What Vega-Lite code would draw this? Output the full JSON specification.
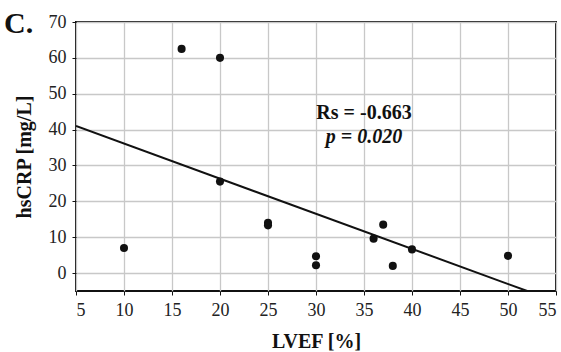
{
  "$schema": "https://vega.github.io/schema/vega-lite/v6.json",
  "autosize": "none",
  "width": 480,
  "height": 269,
  "padding": {"left": 76, "top": 22, "right": 5, "bottom": 61},
  "background": "white",
  "title": {"text": "C.", "anchor": "start", "frame": "group", "font": "Liberation Serif", "fontSize": 30, "fontWeight": "bold", "color": "#111", "dx": -72, "dy": 26, "offset": 0},
  "config": {
    "font": "Liberation Serif",
    "view": {"stroke": "#111", "strokeWidth": 2},
    "axis": {"labelFont": "Liberation Serif", "titleFont": "Liberation Serif", "labelFontSize": 18, "titleFontSize": 20, "titleFontWeight": "bold", "labelColor": "#222", "titleColor": "#111", "gridColor": "#c8c8c8", "gridWidth": 1.3, "domain": false, "tickColor": "#111", "tickSize": 4, "labelOverlap": false}
  },
  "datasets": {
    "pts": [
      {"lvef": 10, "crp": 7},
      {"lvef": 16, "crp": 62.5},
      {"lvef": 20, "crp": 60},
      {"lvef": 20, "crp": 25.5},
      {"lvef": 25, "crp": 14},
      {"lvef": 25, "crp": 13.3},
      {"lvef": 30, "crp": 4.7},
      {"lvef": 30, "crp": 2.2},
      {"lvef": 36, "crp": 9.6},
      {"lvef": 37, "crp": 13.5},
      {"lvef": 38, "crp": 2},
      {"lvef": 40, "crp": 6.6},
      {"lvef": 50, "crp": 4.8}
    ],
    "fit": [
      {"lvef": 5, "crp": 41},
      {"lvef": 52, "crp": -5}
    ],
    "ann": [
      {"lvef": 35, "crp": 44.5, "t": "Rs = -0.663", "st": "normal"},
      {"lvef": 35, "crp": 37.8, "t": "p = 0.020", "st": "italic"}
    ]
  },
  "encoding": {
    "x": {"field": "lvef", "type": "quantitative", "scale": {"domain": [5, 55], "nice": false}, "axis": {"values": [5, 10, 15, 20, 25, 30, 35, 40, 45, 50, 55], "format": "d", "title": "LVEF [%]", "labelFont": "Liberation Serif", "labelFontSize": 18, "labelOverlap": false, "labelPadding": 6, "titlePadding": 12, "grid": true}},
    "y": {"field": "crp", "type": "quantitative", "scale": {"domain": [-5, 70], "nice": false}, "axis": {"values": [0, 10, 20, 30, 40, 50, 60, 70], "format": "d", "title": "hsCRP [mg/L]", "labelFont": "Liberation Serif", "labelFontSize": 18, "labelOverlap": false, "labelPadding": 6, "titlePadding": 14, "grid": true}}
  },
  "layer": [
    {
      "data": {"name": "fit"},
      "mark": {"type": "line", "color": "#111", "strokeWidth": 2, "clip": true}
    },
    {
      "data": {"name": "pts"},
      "mark": {"type": "point", "filled": true, "shape": "circle", "size": 65, "color": "#111", "opacity": 1}
    },
    {
      "data": {"name": "ann"},
      "transform": [{"filter": "datum.st == 'normal'"}],
      "mark": {"type": "text", "font": "Liberation Serif", "fontSize": 20, "fontWeight": "bold", "color": "#111"},
      "encoding": {"text": {"field": "t"}}
    },
    {
      "data": {"name": "ann"},
      "transform": [{"filter": "datum.st == 'italic'"}],
      "mark": {"type": "text", "font": "Liberation Serif", "fontSize": 20, "fontWeight": "bold", "fontStyle": "italic", "color": "#111"},
      "encoding": {"text": {"field": "t"}}
    }
  ]
}
